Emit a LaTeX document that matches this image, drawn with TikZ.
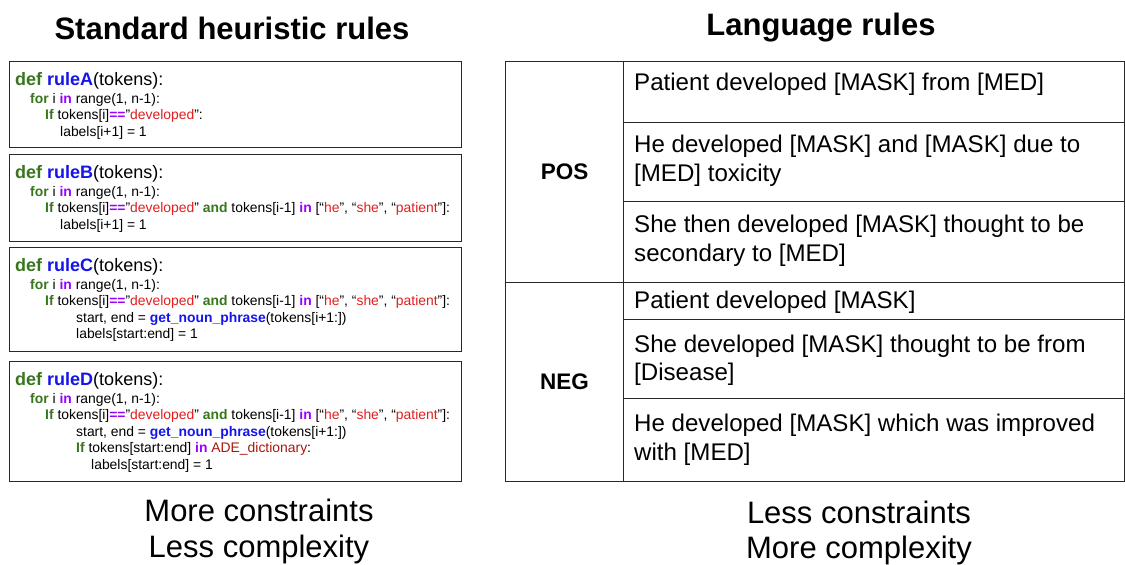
\documentclass[tikz,border=0pt]{standalone}
\usepackage{fontspec}
\setmainfont{Liberation Sans}
\definecolor{codegreen}{RGB}{56,118,29}
\definecolor{codeblue}{RGB}{20,20,235}
\definecolor{codepurple}{RGB}{153,0,255}
\definecolor{codered}{RGB}{225,30,30}
\definecolor{codedarkred}{RGB}{165,25,15}
\definecolor{frame}{RGB}{40,40,40}
\newcommand{\kwd}[1]{\textcolor{codegreen}{\textbf{#1}}}
\newcommand{\opr}[1]{\textcolor{codepurple}{\textbf{#1}}}
\newcommand{\oprb}[1]{\textcolor{codepurple}{\textbf{#1}}}
\newcommand{\strg}[1]{\textcolor{codered}{#1}}
\newcommand{\fnc}[1]{\textcolor{codeblue}{\textbf{#1}}}
\begin{document}
\begin{tikzpicture}[x=1pt,y=-1pt,
  codebox/.style={draw=frame,line width=1.4pt,minimum width=452pt,anchor=north west,inner sep=0pt},
  defline/.style={anchor=base west,inner sep=0pt,font=\fontsize{18}{21}\selectfont},
  codeline/.style={anchor=base west,inner sep=0pt,font=\fontsize{13.9}{16}\selectfont},
  cell/.style={draw=frame,line width=1.2pt,anchor=north west,inner sep=0pt},
  sent/.style={anchor=base west,inner sep=0pt,font=\fontsize{24.1}{29}\selectfont},
  lab/.style={font=\fontsize{22.5}{27}\selectfont\bfseries},
  title/.style={font=\fontsize{31}{37}\selectfont\bfseries},
  foot/.style={anchor=base,inner sep=0pt,font=\fontsize{31}{37}\selectfont}]
\useasboundingbox (0,0) rectangle (1125,565);

% titles
\node[title] (t1) at (232,28) {Standard heuristic rules};
\node[title] (t2) at (821,28) {Language rules};

% code box A
\node[codebox,minimum height=86pt] (boxA) at (9,61) {};
\node[defline] (a0) at (15,85.5) {\kwd{def} \fnc{ruleA}(tokens):};
\node[codeline] (a1) at (30,103) {\kwd{for} i \opr{in} range(1, n-1):};
\node[codeline] (a2) at (45,119.5) {\kwd{If} tokens[i]\oprb{==}”\strg{developed}”:};
\node[codeline] (a3) at (60,136) {labels[i+1] = 1};

% code box B
\node[codebox,minimum height=87pt] (boxB) at (9,154) {};
\node[defline] (b0) at (15,178.5) {\kwd{def} \fnc{ruleB}(tokens):};
\node[codeline] (b1) at (30,196) {\kwd{for} i \opr{in} range(1, n-1):};
\node[codeline] (b2) at (45,212.5) {\kwd{If} tokens[i]\oprb{==}”\strg{developed}” \kwd{and} tokens[i-1] \opr{in} [“\strg{he}”, “\strg{she}”, “\strg{patient}”]:};
\node[codeline] (b3) at (60,229) {labels[i+1] = 1};

% code box C
\node[codebox,minimum height=104pt] (boxC) at (9,247) {};
\node[defline] (c0) at (15,271.5) {\kwd{def} \fnc{ruleC}(tokens):};
\node[codeline] (c1) at (30,289) {\kwd{for} i \opr{in} range(1, n-1):};
\node[codeline] (c2) at (45,305.5) {\kwd{If} tokens[i]\oprb{==}”\strg{developed}” \kwd{and} tokens[i-1] \opr{in} [“\strg{he}”, “\strg{she}”, “\strg{patient}”]:};
\node[codeline] (c3) at (76,322) {start, end = \fnc{get\_noun\_phrase}(tokens[i+1:])};
\node[codeline] (c4) at (76,338.5) {labels[start:end] = 1};

% code box D
\node[codebox,minimum height=120pt] (boxD) at (9,361) {};
\node[defline] (d0) at (15,385.5) {\kwd{def} \fnc{ruleD}(tokens):};
\node[codeline] (d1) at (30,403) {\kwd{for} i \opr{in} range(1, n-1):};
\node[codeline] (d2) at (45,419.5) {\kwd{If} tokens[i]\oprb{==}”\strg{developed}” \kwd{and} tokens[i-1] \opr{in} [“\strg{he}”, “\strg{she}”, “\strg{patient}”]:};
\node[codeline] (d3) at (76,436) {start, end = \fnc{get\_noun\_phrase}(tokens[i+1:])};
\node[codeline] (d4) at (76,452.5) {\kwd{If} tokens[start:end] \opr{in} \textcolor{codedarkred}{ADE\_dictionary}:};
\node[codeline] (d5) at (91,469) {labels[start:end] = 1};

% table
\node[cell,minimum width=118pt,minimum height=221pt] (pos) at (505,61) {};
\node[cell,minimum width=118pt,minimum height=199pt] (neg) at (505,282) {};
\node[lab] (posl) at (pos.center) {POS};
\node[lab] (negl) at (neg.center) {NEG};

\node[cell,minimum width=501pt,minimum height=61pt] (r1) at (623,61) {};
\node[cell,minimum width=501pt,minimum height=79pt] (r2) at (623,122) {};
\node[cell,minimum width=501pt,minimum height=81pt] (r3) at (623,201) {};
\node[cell,minimum width=501pt,minimum height=37pt] (r4) at (623,282) {};
\node[cell,minimum width=501pt,minimum height=79pt] (r5) at (623,319) {};
\node[cell,minimum width=501pt,minimum height=83pt] (r6) at (623,398) {};

\node[sent] (s1) at (634,90) {Patient developed [MASK] from [MED]};
\node[sent] (s2a) at (634,152) {He developed [MASK] and [MASK] due to};
\node[sent] (s2b) at (634,181) {[MED] toxicity};
\node[sent] (s3a) at (634,232) {She then developed [MASK] thought to be};
\node[sent] (s3b) at (634,261) {secondary to [MED]};
\node[sent] (s4) at (634,308) {Patient developed [MASK]};
\node[sent] (s5a) at (634,352) {She developed [MASK] thought to be from};
\node[sent] (s5b) at (634,380) {[Disease]};
\node[sent] (s6a) at (634,431) {He developed [MASK] which was improved};
\node[sent] (s6b) at (634,460) {with [MED]};

% footers
\node[foot] (f1) at (259,521) {More constraints};
\node[foot] (f2) at (259,557) {Less complexity};
\node[foot] (f3) at (859,523) {Less constraints};
\node[foot] (f4) at (859,558) {More complexity};
\end{tikzpicture}
\end{document}
